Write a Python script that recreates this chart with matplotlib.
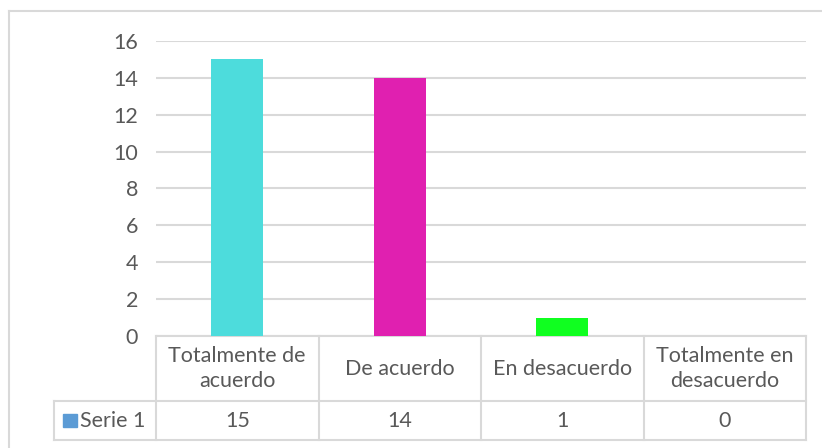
import matplotlib
matplotlib.use('Agg')
import matplotlib.pyplot as plt
from matplotlib.lines import Line2D
from matplotlib.patches import Rectangle
import matplotlib.transforms as mtransforms

categorias = ['Totalmente de\nacuerdo', 'De acuerdo', 'En desacuerdo', 'Totalmente en\ndesacuerdo']
valores = [15, 14, 1, 0]
colores = ['#4ddcdc', '#e020b0', '#10ff20', '#5b9bd5']
serie = 'Serie 1'
yticks = [0, 2, 4, 6, 8, 10, 12, 14, 16]

plt.rcParams['font.family'] = ['Lato', 'DejaVu Sans']
texto = '#595959'
linea = '#d9d9d9'
fs = 15.5

W, H = 822, 448
fig = plt.figure(figsize=(W / 100, H / 100), dpi=100)

# borde exterior del grafico
fig.add_artist(Line2D([8.5 / W, 8.5 / W], [0, 1 - 11.5 / H], color=linea, lw=1.5))
fig.add_artist(Line2D([8.5 / W, 1], [1 - 11.5 / H, 1 - 11.5 / H], color=linea, lw=1.5))

x0, x1 = 156, 806
yb, yt = 336, 41
ax = fig.add_axes([x0 / W, 1 - yb / H, (x1 - x0) / W, (yb - yt) / H])

idx = list(range(len(categorias)))
ax.bar(idx, valores, width=0.32, color=colores[:len(valores)], zorder=3)
ax.set_xlim(-0.5, len(categorias) - 0.5)
ax.set_ylim(0, 16)
ax.set_yticks(yticks)
ax.set_yticklabels([str(v) for v in yticks], fontsize=fs, color=texto)
ax.tick_params(axis='y', length=0, pad=13)
ax.set_xticks([])
for s in ax.spines.values():
    s.set_visible(False)
ax.yaxis.grid(True, color=linea, lw=1.5, zorder=0)

# tabla de datos
trans = mtransforms.blended_transform_factory(ax.transData, ax.transAxes)
h_ax = yb - yt
r1 = (yb - 401) / h_ax
r2 = (yb - 440) / h_ax
paso = (x1 - x0) / len(categorias)
xl = (54 - x0) / paso - 0.5
n = len(categorias)

def hline(xa, xb, y):
    ax.add_line(Line2D([xa, xb], [y, y], transform=trans, color=linea, lw=1.5, clip_on=False))

def vline(x, ya, yb_):
    ax.add_line(Line2D([x, x], [ya, yb_], transform=trans, color=linea, lw=1.5, clip_on=False))

hline(-0.5, n - 0.5, 0)
hline(xl, n - 0.5, r1)
hline(xl, n - 0.5, r2)
for i in range(n + 1):
    vline(i - 0.5, 0, r2)
vline(xl, r1, r2)

for i, (c, v) in enumerate(zip(categorias, valores)):
    ax.text(i, r1 / 2, c, transform=trans, ha='center', va='center',
            fontsize=fs, color=texto, linespacing=1.3)
    ax.text(i, (r1 + r2) / 2, str(v), transform=trans, ha='center', va='center',
            fontsize=fs, color=texto)

ax.add_patch(Rectangle((xl + 9 / paso, (r1 + r2) / 2 - 6 / h_ax), 14 / paso, 13 / h_ax,
                       transform=trans, color='#5b9bd5', clip_on=False))
ax.text(xl + 26 / paso, (r1 + r2) / 2, serie, transform=trans, ha='left', va='center',
        fontsize=fs, color=texto)

fig.savefig('out.png', dpi=100)
